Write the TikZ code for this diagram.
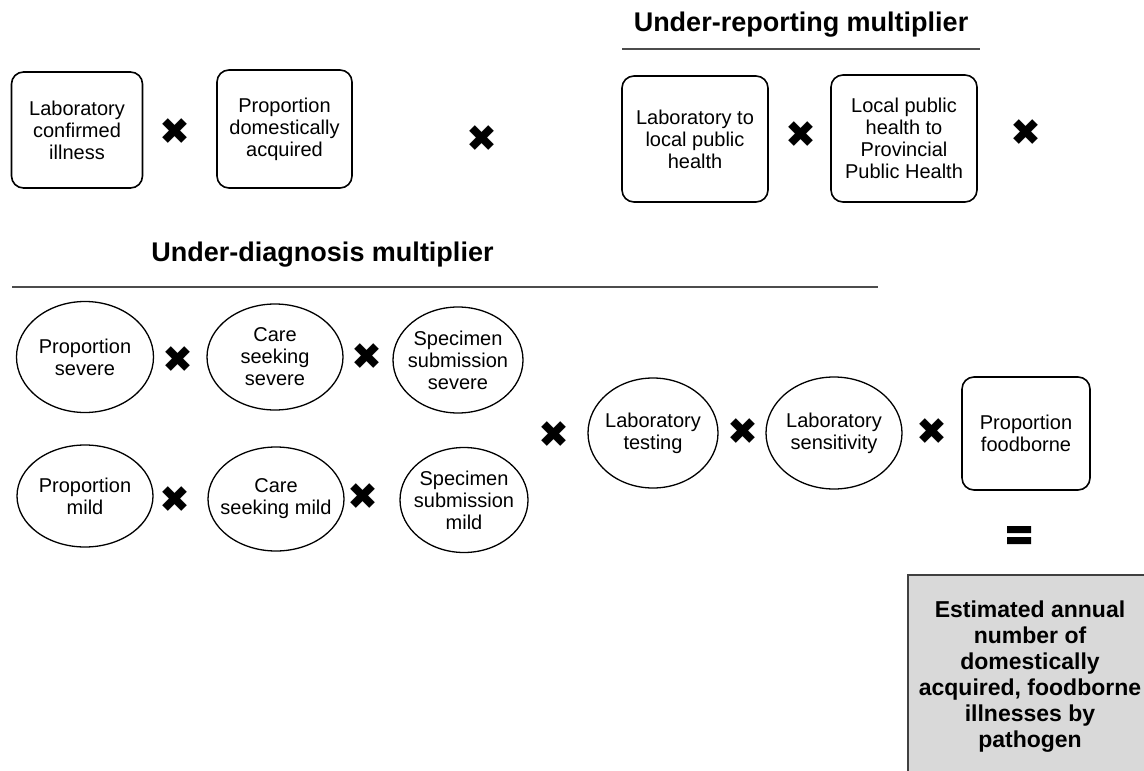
\documentclass[tikz,border=0pt]{standalone}
\usepackage{fontspec}
\setmainfont{Liberation Sans}
\newfontfamily\symfont{DejaVu Sans}
\usepackage{tikz}
\usetikzlibrary{shapes.geometric}
\tikzstyle{box} = [draw, rounded corners=6pt, line width=0.8pt, align=center, inner sep=0pt, font=\fontsize{10}{11}\selectfont]
\tikzstyle{oval} = [draw, ellipse, line width=0.65pt, align=center, inner sep=-4pt, font=\fontsize{10}{11}\selectfont]
\tikzstyle{times} = [inner sep=0pt, font=\symfont\fontsize{18.5}{18.5}\selectfont]
\tikzstyle{heading} = [font=\bfseries\fontsize{13.5}{16}\selectfont]
\tikzstyle{rule} = [line width=1.2pt, draw=black!70]

\begin{document}
\begin{tikzpicture}[x=0.5pt,y=-0.5pt]
\useasboundingbox (0,0) rectangle (1144,770);
% top row
\node[box, minimum width=65.5pt, minimum height=58pt] (labconf) at (77,130) {Laboratory\\confirmed\\illness};
\node[times] (x1) at (175,132) {✖};
\node[box, minimum width=67.5pt, minimum height=59pt] (domestic) at (284.5,129) {Proportion\\domestically\\acquired};
\node[times] (x2) at (482,139) {✖};
% under-reporting
\node[heading] (report) at (801,25) {Under-reporting multiplier};
\coordinate (rep1) at (622,49);
\coordinate (rep2) at (980,49);
\draw[rule] (rep1) -- (rep2);
\node[box, minimum width=73pt, minimum height=63pt] (labloc) at (695,139) {Laboratory to\\local public\\health};
\node[times] (x3) at (801,135) {✖};
\node[box, minimum width=73pt, minimum height=63.5pt] (locprov) at (904,138.5) {Local public\\health to\\Provincial\\Public Health};
\node[times] (x4) at (1026,133) {✖};
% under-diagnosis
\node[heading] (diag) at (322.5,255) {Under-diagnosis multiplier};
\coordinate (diag1) at (12,287);
\coordinate (diag2) at (878,287);
\draw[rule] (diag1) -- (diag2);
\node[oval, minimum width=68.5pt, minimum height=55.5pt] (sev) at (85,357) {Proportion\\severe};
\node[times] (xa) at (178,360) {✖};
\node[oval, minimum width=68pt, minimum height=53pt] (caresev) at (275,357) {Care\\seeking\\severe};
\node[times] (xb) at (367,357) {✖};
\node[oval, minimum width=65pt, minimum height=53pt] (specsev) at (458,360) {Specimen\\submission\\severe};
\node[oval, minimum width=68pt, minimum height=51pt] (mild) at (85,496) {Proportion\\mild};
\node[times] (xc) at (175,500) {✖};
\node[oval, minimum width=68pt, minimum height=52pt] (caremild) at (276,499) {Care\\seeking mild};
\node[times] (xd) at (363,497) {✖};
\node[oval, minimum width=64pt, minimum height=52.5pt] (specmild) at (464,500) {Specimen\\submission\\mild};
\node[times] (xe) at (554,435) {✖};
\node[oval, minimum width=65pt, minimum height=55pt] (labtest) at (653,433) {Laboratory\\testing};
\node[times] (xf) at (743,432) {✖};
\node[oval, minimum width=68pt, minimum height=56pt] (labsens) at (834,433) {Laboratory\\sensitivity};
\node[times] (xg) at (932,432) {✖};
\node[box, minimum width=64pt, minimum height=56.5pt] (food) at (1026,433.5) {Proportion\\foodborne};
% equals
\coordinate (eq) at (1019,535);
\fill[shift={(eq)}] (-12,-9) rectangle (12,-2) (-12,2) rectangle (12,9);
% result
\node[draw=black!75, fill=black!15, line width=0.8pt, minimum width=122pt, minimum height=102pt, align=center, font=\bfseries\fontsize{11.5}{13}\selectfont] (result) at (1030,677) {Estimated annual\\number of\\domestically\\acquired, foodborne\\illnesses by\\pathogen};
\end{tikzpicture}
\end{document}
